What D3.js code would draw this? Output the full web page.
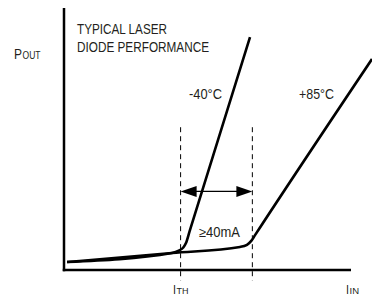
<!DOCTYPE html>
<html>
<head>
<meta charset="utf-8">
<script src="https://cdn.jsdelivr.net/npm/d3@7"></script>
<style>
  html, body { margin: 0; padding: 0; background: #fff; }
  svg { display: block; }
  text { font-family: "Liberation Sans Narrow", "Arial Narrow", "Liberation Sans", Arial, sans-serif; fill: #231f20; }
</style>
</head>
<body>
<svg id="chart"></svg>
<script>
// Laser diode output power vs input current (qualitative, mA vs arbitrary units)
const coldCurve = [[1.7, 3.05], [60.2, 6.5], [64, 7.4], [66.5, 8.6], [68, 10.3], [70, 14.7], [103.7, 88.9]];
const hotCurve = [[1.7, 3.05], [60.2, 6.5], [98.1, 8.8], [102, 9.6], [104.5, 11.2], [106.5, 13.3], [171.7, 80.5]];
const thresholds = [65, 105];     // ITH at -40°C and +85°C
const markerRange = [-4, 54.5];   // span of dashed markers
const arrowLevel = 30;
const curveLabels = ['-40°C', '+85°C'];

const width = 372, height = 296;
const svg = d3.select('#chart').attr('width', width).attr('height', height);

const x = d3.scaleLinear().domain([0, 160]).range([64, 351]);
const y = d3.scaleLinear().domain([0, 100]).range([270, 8]);

const ink = '#000';

// axes (plain L frame, no ticks)
svg.append('line')
  .attr('x1', x(0)).attr('x2', x(0))
  .attr('y1', y(100)).attr('y2', y(0) + 1.25)
  .attr('stroke', ink).attr('stroke-width', 2.5);
svg.append('line')
  .attr('x1', x(0) - 1.25).attr('x2', x(160))
  .attr('y1', y(0)).attr('y2', y(0))
  .attr('stroke', ink).attr('stroke-width', 2.5);

// threshold markers
thresholds.forEach(t => {
  svg.append('line')
    .attr('x1', x(t)).attr('x2', x(t))
    .attr('y1', y(markerRange[1])).attr('y2', y(markerRange[0]))
    .attr('stroke', ink).attr('stroke-width', 1)
    .attr('stroke-dasharray', '5 4');
});

// curves
const line = d3.line().x(d => x(d[0])).y(d => y(d[1])).curve(d3.curveMonotoneX);
[coldCurve, hotCurve].forEach(c => {
  svg.append('path')
    .datum(c)
    .attr('fill', 'none')
    .attr('stroke', ink)
    .attr('stroke-width', 2.6)
    .attr('stroke-linejoin', 'round')
    .attr('d', line);
});

// double arrow between thresholds
const ay = y(arrowLevel);
const x0 = x(thresholds[0]), x1 = x(thresholds[1]);
const headLen = 16, headHalf = 5.5;
svg.append('line')
  .attr('x1', x0 + headLen - 2).attr('x2', x1 - headLen + 2)
  .attr('y1', ay).attr('y2', ay)
  .attr('stroke', ink).attr('stroke-width', 1.4);
svg.append('path')
  .attr('d', `M${x0},${ay}L${x0 + headLen},${ay - headHalf}L${x0 + headLen},${ay + headHalf}Z`)
  .attr('fill', ink);
svg.append('path')
  .attr('d', `M${x1},${ay}L${x1 - headLen},${ay - headHalf}L${x1 - headLen},${ay + headHalf}Z`)
  .attr('fill', ink);

// text — squeezed to mimic the narrow face of the original
function label(xp, yp, txt, len, size = 13.8) {
  return svg.append('text').attr('x', xp).attr('y', yp).attr('font-size', size)
    .attr('textLength', len).attr('lengthAdjust', 'spacingAndGlyphs').text(txt);
}
label(77, 33.5, 'TYPICAL LASER', 90);
label(77, 52, 'DIODE PERFORMANCE', 132);
label(189, 99, curveLabels[0], 33);
label(299, 99, curveLabels[1], 35);
label(199, 237, '≥40mA', 41);

function subLabel(xp, yp, main, sub, mainLen, subLen, mainSize, subSize) {
  svg.append('text').attr('x', xp).attr('y', yp).attr('font-size', mainSize)
    .attr('textLength', mainLen).attr('lengthAdjust', 'spacingAndGlyphs').text(main);
  svg.append('text').attr('x', xp + mainLen + 0.5).attr('y', yp).attr('font-size', subSize)
    .attr('textLength', subLen).attr('lengthAdjust', 'spacingAndGlyphs').text(sub);
}
subLabel(14, 59, 'P', 'OUT', 8, 18, 13.8, 10.5);
subLabel(173, 293.5, 'I', 'TH', 3, 12, 12, 8.5);
subLabel(346, 293.5, 'I', 'IN', 3, 9.5, 12, 8.5);
</script>
</body>
</html>
